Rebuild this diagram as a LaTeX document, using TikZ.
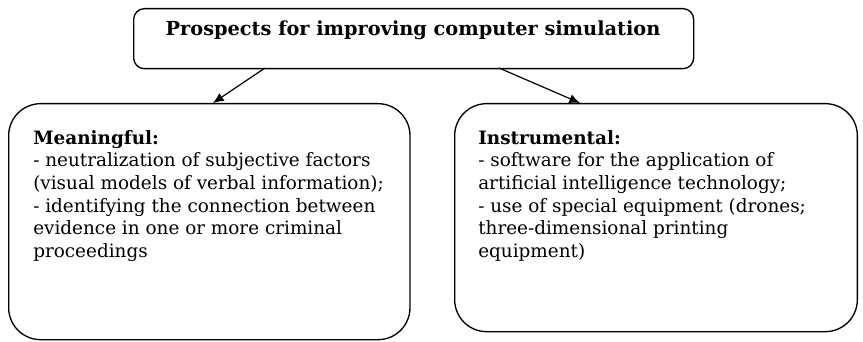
\documentclass[tikz,border=0pt]{standalone}
\usepackage{fontspec}
\setmainfont{DejaVu Serif}
\usetikzlibrary{positioning,arrows.meta}
\begin{document}
\begin{tikzpicture}[x=0.75pt,y=-0.75pt]

\tikzstyle{topbox} = [rectangle, draw, line width=1pt, rounded corners=8pt, anchor=north west, inner sep=0pt]
\tikzstyle{bigbox} = [rectangle, draw, line width=1pt, rounded corners=24pt, anchor=north west, inner sep=0pt]
\tikzstyle{boxtext} = [anchor=north west, align=left, inner sep=0pt, font=\fontsize{13.8}{17}\selectfont]
\tikzstyle{link} = [line width=0.9pt, -{Latex[length=8pt,width=7pt]}]

\useasboundingbox (0,0) rectangle (863,342);

%Title block
\node[topbox, minimum width=420pt, minimum height=45pt](title) at (133,8){};
\node[anchor=north, inner sep=0pt, font=\fontsize{14.5}{16}\selectfont\bfseries](titletext) at (413,21){Prospects for improving computer simulation};

%Meaningful block
\node[bigbox, minimum width=301pt, minimum height=177pt](mean) at (8,103){};
\node[boxtext](meantext) at (33,130){\textbf{Meaningful:}\\
- neutralization of subjective factors\\
(visual models of verbal information);\\
- identifying the connection between\\
evidence in one or more criminal\\
proceedings};

%Instrumental block
\node[bigbox, minimum width=302pt, minimum height=171pt](inst) at (454,103){};
\node[boxtext](insttext) at (478,130){\textbf{Instrumental:}\\
- software for the application of\\
artificial intelligence technology;\\
- use of special equipment (drones;\\
three-dimensional printing\\
equipment)};

%Arrows from title
\coordinate (tl) at (265,68);
\coordinate (tr) at (499,68);
\draw[link] (tl) -- (mean.north -| 213,0);
\draw[link] (tr) -- (inst.north -| 580,0);

\end{tikzpicture}
\end{document}
